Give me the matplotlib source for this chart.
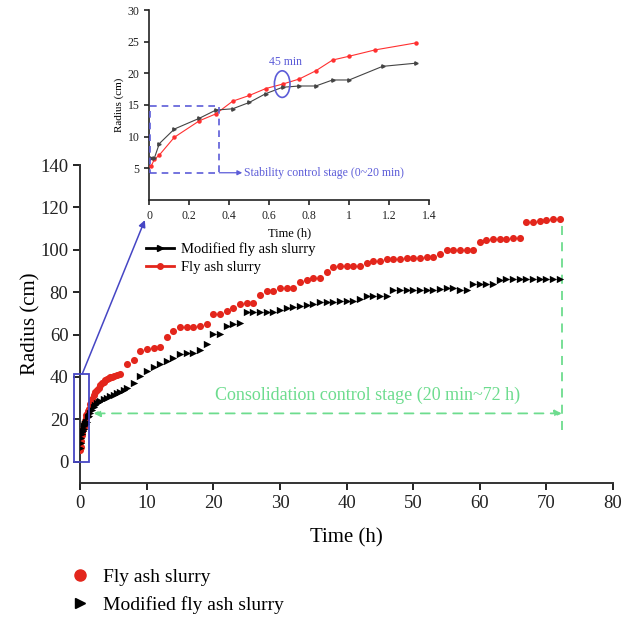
import matplotlib
matplotlib.use('Agg')
import matplotlib.pyplot as plt
from matplotlib.lines import Line2D
from matplotlib.patches import Rectangle, Ellipse

plt.rcParams['font.family'] = ['Liberation Serif', 'DejaVu Serif']

# inset data (first 80 min), time in h, radius in cm
inset_red_t = [0.0083, 0.025, 0.05, 0.125, 0.25, 0.333, 0.417, 0.5, 0.583, 0.667,
               0.75, 0.833, 0.917, 1.0, 1.13, 1.333]
inset_red_r = [5.3, 6.4, 7.1, 9.9, 12.5, 13.6, 15.6, 16.5, 17.6, 18.3,
               19.1, 20.4, 22.1, 22.7, 23.7, 24.8]
inset_blk_t = [0.0083, 0.025, 0.05, 0.125, 0.25, 0.333, 0.417, 0.5, 0.583, 0.667,
               0.75, 0.833, 0.917, 1.0, 1.167, 1.333]
inset_blk_r = [6.6, 6.6, 8.9, 11.2, 12.9, 14.2, 14.4, 15.4, 16.8, 17.8,
               18.0, 18.0, 18.95, 18.95, 21.1, 21.6]

# early part of main chart (1.5 - 6.5 h)
early_red_t = [1.5, 1.75, 2.0, 2.25, 2.5, 2.75, 3.0, 3.25, 3.5, 3.75, 4.0, 4.25,
               4.5, 4.75, 5.0, 5.5, 6.0]
early_red_r = [27.0, 29.5, 31.5, 32.8, 34.0, 35.0, 36.0, 37.0, 37.8, 38.5, 39.0, 39.4,
               39.8, 40.2, 40.5, 41.0, 41.6]
early_blk_t = [1.5, 1.75, 2.0, 2.25, 2.5, 2.75, 3.0, 3.5, 4.0, 4.5, 5.0, 5.5, 6.0, 6.5]
early_blk_r = [22.8, 24.5, 25.8, 26.8, 27.5, 28.1, 28.6, 29.4, 30.2, 31.0, 31.7, 32.3,
               33.0, 33.8]

# hourly readings 7 - 72 h
hours = list(range(7, 73))
red_hourly = [46.1, 48.0, 52.2, 53.3, 53.5, 54.1, 59.0, 61.7, 63.5, 63.5, 63.7, 64.2,
              64.8, 69.7, 69.7, 71.1, 72.7, 74.4, 75.0, 75.0, 78.6, 80.7, 80.7, 82.1,
              82.1, 82.1, 84.8, 85.7, 86.7, 86.7, 89.5, 91.7, 92.4, 92.4, 92.4, 92.4,
              93.9, 94.8, 94.8, 95.6, 95.8, 95.8, 96.1, 96.1, 96.1, 96.4, 96.7, 97.8,
              99.9, 99.9, 99.9, 99.9, 99.9, 103.5, 104.7, 104.9, 105.2, 105.3, 105.5,
              105.7, 112.9, 113.2, 113.7, 114.0, 114.3, 114.3]
blk_hourly = [34.6, 37.0, 40.4, 42.9, 44.8, 45.9, 47.6, 48.8, 50.7, 51.1, 51.1, 52.7,
              55.5, 60.1, 60.1, 63.8, 64.8, 65.6, 70.8, 70.8, 70.8, 70.8, 70.8, 71.6,
              72.3, 73.1, 73.5, 74.0, 74.5, 75.2, 75.5, 75.5, 75.8, 75.9, 75.9, 76.6,
              78.3, 78.3, 78.3, 78.3, 80.8, 80.8, 80.8, 80.8, 80.8, 80.8, 81.1, 81.5,
              81.8, 81.8, 81.2, 81.2, 83.7, 83.7, 83.7, 83.7, 85.7, 86.4, 86.4, 86.4,
              86.4, 86.4, 86.4, 86.4, 86.4, 86.4]

red_t = inset_red_t + early_red_t + hours
red_r = inset_red_r + early_red_r + red_hourly
blk_t = inset_blk_t + early_blk_t + hours
blk_r = inset_blk_r + early_blk_r + blk_hourly

RED = '#e3261c'
BLUE = '#4646c4'
LBLUE = '#5c5cd8'
GREEN = '#6ddc8e'

fig = plt.figure(figsize=(6.23, 6.18), dpi=100)

# ---- main axes ----
ax = fig.add_axes([0.1288, 0.2186, 0.8552, 0.5144])
ax.scatter(red_t, red_r, s=26, color=RED, marker='o', linewidths=0, zorder=3)
ax.scatter(blk_t, blk_r, s=28, color='black', marker='>', linewidths=0, zorder=3)

ax.set_xlim(0, 80)
ax.set_ylim(-10, 140)
ax.set_xticks(range(0, 81, 10))
ax.set_yticks(range(0, 141, 20))
for s in ['top', 'right']:
    ax.spines[s].set_visible(False)
for s in ['left', 'bottom']:
    ax.spines[s].set_linewidth(1.4)
    ax.spines[s].set_color('#333333')
ax.tick_params(width=1.4, length=5, labelsize=13.5, colors='#222222')
ax.set_xlabel('Time (h)', fontsize=15, labelpad=12)
ax.set_ylabel('Radius (cm)', fontsize=15, labelpad=0)

# zoom box and arrow to inset
ax.add_patch(Rectangle((-1.0, 0), 2.35, 41.4, fill=False, edgecolor=BLUE,
                       linewidth=1.3, clip_on=False, zorder=4))
ax.annotate('', xy=(9.7, 114), xytext=(0.3, 41.4),
            arrowprops=dict(arrowstyle='-|>', color=BLUE, lw=1.1,
                            mutation_scale=10, shrinkA=0, shrinkB=0))

# consolidation stage annotation
ax.annotate('', xy=(2.0, 22.8), xytext=(72.3, 22.8),
            arrowprops=dict(arrowstyle='<|-|>', color=GREEN, lw=1.3,
                            linestyle=(0, (5, 4)), mutation_scale=10,
                            shrinkA=0, shrinkB=0))
ax.plot([72.3, 72.3], [15, 115], color=GREEN, lw=1.3, linestyle=(0, (5, 4)))
ax.text(43.2, 31.5, 'Consolidation control stage (20 min~72 h)', color=GREEN,
        fontsize=13, ha='center', va='center')

leg_handles = [Line2D([], [], color='black', marker='>', markersize=4, lw=2),
               Line2D([], [], color=RED, marker='o', markersize=4, lw=2)]
ax.legend(leg_handles, ['Modified fly ash slurry', 'Fly ash slurry'],
          loc='upper left', bbox_to_anchor=(146 / 623, 1 - 242 / 618),
          bbox_transform=fig.transFigure, frameon=False, fontsize=10.5,
          handlelength=1.9, handletextpad=0.5, borderpad=0, borderaxespad=0,
          labelspacing=0.35)

# ---- inset ----
ins = fig.add_axes([0.2397, 0.6764, 0.449, 0.3074])
ins.plot(inset_red_t, inset_red_r, color='#ff3030', lw=0.8, marker='o',
         markersize=2.2, zorder=3)
ins.plot(inset_blk_t, inset_blk_r, color='#444444', lw=0.8, marker='>',
         markersize=2.4, zorder=3)
ins.set_xlim(0, 1.4)
ins.set_ylim(0, 30)
ins.set_xticks([0, 0.2, 0.4, 0.6, 0.8, 1.0, 1.2, 1.4])
ins.set_xticklabels(['0', '0.2', '0.4', '0.6', '0.8', '1', '1.2', '1.4'])
ins.set_yticks([5, 10, 15, 20, 25, 30])
for s in ['top', 'right']:
    ins.spines[s].set_visible(False)
for s in ['left', 'bottom']:
    ins.spines[s].set_linewidth(1.2)
    ins.spines[s].set_color('#222222')
ins.tick_params(width=1.2, length=3.5, labelsize=8.5, colors='#222222')
ins.set_xlabel('Time (h)', fontsize=9, labelpad=4)
ins.set_ylabel('Radius (cm)', fontsize=8, labelpad=3)
ins.patch.set_alpha(0)

ins.add_patch(Rectangle((0.005, 4.3), 0.345, 10.5, fill=False, edgecolor=LBLUE,
                        linewidth=1.2, linestyle=(0, (4, 3)), zorder=4))
ins.annotate('', xy=(0.465, 4.3), xytext=(0.35, 4.3),
             arrowprops=dict(arrowstyle='-|>', color=LBLUE, lw=0.9,
                             mutation_scale=7, shrinkA=0, shrinkB=0))
ins.text(0.475, 4.3, 'Stability control stage (0~20 min)', color=LBLUE,
         fontsize=8.5, ha='left', va='center')
ins.add_patch(Ellipse((0.665, 18.3), 0.078, 4.2, fill=False, edgecolor=LBLUE,
                      linewidth=1.2, zorder=4))
ins.text(0.68, 21.8, '45 min', color=LBLUE, fontsize=8.5, ha='center', va='center')

# ---- bottom legend ----
bot_handles = [Line2D([], [], color=RED, marker='o', markersize=8, lw=0),
               Line2D([], [], color='black', marker='>', markersize=7, lw=0)]
fig.legend(bot_handles, ['Fly ash slurry', 'Modified fly ash slurry'],
           loc='upper left', bbox_to_anchor=(70 / 623, 1 - 568 / 618),
           frameon=False, fontsize=14, handlelength=1.0, handletextpad=0.7,
           borderpad=0, borderaxespad=0, labelspacing=0.55)

fig.savefig('out.png', dpi=100)
